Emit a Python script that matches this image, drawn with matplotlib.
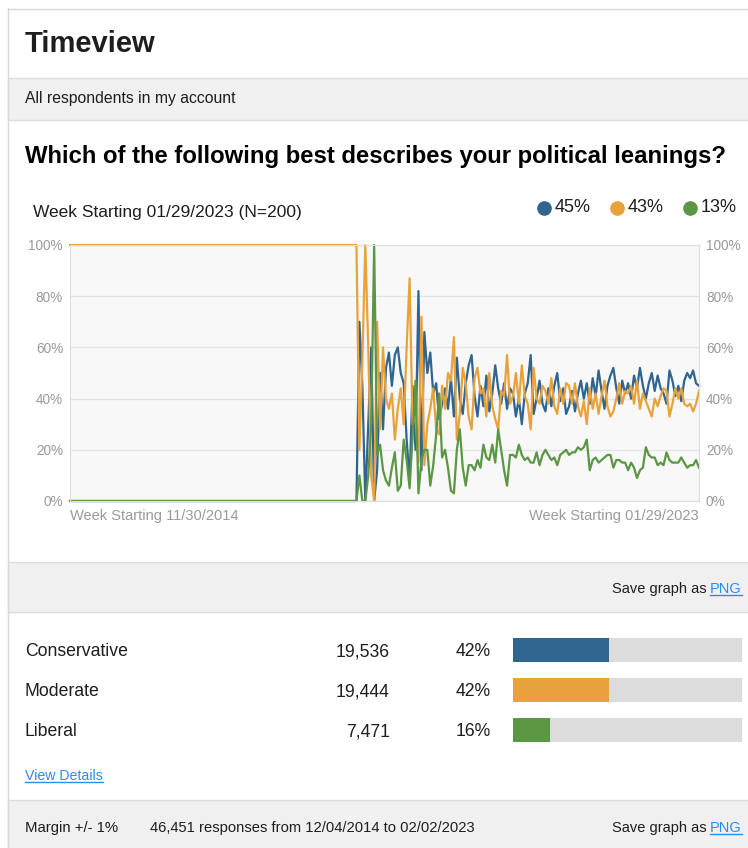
import matplotlib.pyplot as plt
from matplotlib import transforms
from matplotlib.patches import Rectangle

plt.rcParams['font.family'] = ['Liberation Sans', 'DejaVu Sans']

# weekly share (%) per answer; flat until week 194, then every second week
weeks = [0, 194] + list(range(196, 427, 2))
conservative = [0, 0,
    70, 45, 0, 30, 60, 0, 12, 50, 28, 52, 58, 45, 57, 60, 50, 46, 24, 8, 45, 20,
    82, 12, 66, 50, 58, 42, 46, 32,
    38, 44, 36, 48, 33, 56, 40, 34, 46, 53, 57, 41, 33, 45, 37, 49, 35, 42, 53, 44,
    38, 46, 36, 44, 42, 33, 40, 30, 42, 46, 57, 34, 40, 47, 38, 35, 44, 37, 45, 50,
    39, 44, 34,
    37, 43, 35, 42, 47, 40, 46, 38, 48, 41, 51, 43, 36, 45, 49, 52, 44, 38, 47, 42,
    46, 40, 49, 44, 52, 45, 40, 46, 50, 43, 49, 44, 42, 38, 51, 47, 41, 45, 39, 47,
    50, 48, 51, 46, 45]
moderate = [100, 100,
    20, 55, 100, 60, 10, 0, 70, 28, 60, 40, 36, 42, 24, 36, 44, 30, 60, 87, 30, 33,
    15, 72, 14, 30, 36, 44, 28, 26,
    45, 36, 50, 47, 64, 24, 34, 52, 46, 33, 28, 48, 52, 42, 44, 33, 50, 37, 32, 28,
    43, 41, 57, 38, 41, 50, 38, 53, 41, 38, 28, 52, 40, 38, 45, 43, 38, 48, 37, 34,
    44, 38, 46,
    45, 38, 46, 37, 33, 39, 30, 44, 36, 42, 34, 41, 47, 37, 33, 35, 40, 46, 38, 43,
    42, 45, 38, 47, 36, 42, 39, 36, 33, 40, 37, 41, 44, 43, 33, 38, 44, 40, 44, 38,
    37, 38, 35, 38, 43]
liberal = [0, 0,
    10, 0, 0, 10, 30, 100, 18, 22, 12, 8, 6, 13, 19, 4, 6, 24, 16, 5, 25, 47,
    3, 16, 20, 20, 6, 14, 26, 42,
    17, 20, 13, 4, 3, 20, 28, 13, 6, 14, 14, 12, 16, 13, 22, 17, 16, 22, 15, 28,
    20, 12, 6, 18, 18, 17, 22, 18, 16, 17, 15, 15, 19, 14, 18, 20, 18, 16, 17, 14,
    18, 19, 20,
    18, 19, 19, 21, 20, 21, 24, 12, 16, 17, 15, 16, 17, 18, 18, 13, 16, 16, 15, 15,
    12, 15, 13, 9, 12, 13, 21, 18, 17, 17, 14, 15, 14, 19, 16, 15, 15, 15, 17, 15,
    13, 14, 14, 16, 13]

categories = ['Conservative', 'Moderate', 'Liberal']
responses = [19536, 19444, 7471]
colors = ['#306590', '#e9a23b', '#5b9645']
first_week = '11/30/2014'
last_week = '01/29/2023'
last_n = 200
date_range = ('12/04/2014', '02/02/2023')
margin = 1

W, H = 748, 848
LINK = '#2a8cf0'
TEXT = '#1e1e1e'

fig = plt.figure(figsize=(W / 100, H / 100), dpi=100)
fig.patch.set_facecolor('white')

# page background in pixel coordinates
bg = fig.add_axes([0, 0, 1, 1])
bg.set_xlim(0, W)
bg.set_ylim(H, 0)
bg.axis('off')

for top, height in [(78, 42), (562, 50), (800, 60)]:
    bg.add_patch(Rectangle((8, top), W, height, fc='#f0f0f0', ec='#dcdcdc', lw=1))
bg.plot([8.5, 8.5], [8, H], color='#d8d8d8', lw=1)
bg.plot([8, W], [8.5, 8.5], color='#d8d8d8', lw=1)

bg.text(25, 44, 'Timeview', fontsize=21, fontweight='bold', va='center', color=TEXT)
bg.text(25, 99, 'All respondents in my account', fontsize=11.3, va='center', color=TEXT)
bg.text(25, 156, 'Which of the following best describes your political leanings?',
        fontsize=17.2, fontweight='bold', va='center', color='black')
bg.text(33, 212, f'Week Starting {last_week} (N={last_n})', fontsize=12.5,
        va='center', color=TEXT)

series = [conservative, moderate, liberal]
for i, (c, s) in enumerate(zip(colors, series)):
    bg.plot(544 + 73 * i, 208, 'o', ms=9.5, color=c)
    bg.text(555 + 73 * i, 208, f'{s[-1]}%', fontsize=13, va='center', color=TEXT)

# time series chart
ax = fig.add_axes([70 / W, 1 - 501 / H, 629 / W, 256 / H])
ax.set_facecolor('#f8f8f8')
for c, s in zip(colors, series):
    ax.plot(weeks, s, color=c, lw=1.6, clip_on=False)
ax.set_xlim(0, 426)
ax.set_ylim(0, 100)
ax.set_xticks([])
ax.set_yticks([0, 20, 40, 60, 80, 100])
ax.set_yticklabels([f'{v}%' for v in range(0, 101, 20)])
ax.tick_params(axis='y', length=0, labelleft=True, labelright=True,
               labelsize=9.8, colors='#9a9a9a', pad=5)
ax.grid(axis='y', color='#e4e4e4', lw=1)
ax.set_axisbelow(True)
for sp in ax.spines.values():
    sp.set_color('#dddddd')
ax.text(0, -0.03, f'Week Starting {first_week}', transform=ax.transAxes,
        ha='left', va='top', fontsize=10.5, color='#9a9a9a')
ax.text(1, -0.03, f'Week Starting {last_week}', transform=ax.transAxes,
        ha='right', va='top', fontsize=10.5, color='#9a9a9a')

# totals table with bars
total = sum(responses)
shares = [round(100 * r / total) for r in responses]
axb = fig.add_axes([513 / W, 1 - 750 / H, 229 / W, 120 / H])
axb.set_xlim(0, 100)
axb.set_ylim(2.5, -0.5)
axb.axis('off')
rows = range(len(categories))
axb.barh(rows, [100] * len(rows), height=0.6, color='#dcdcdc')
axb.barh(rows, shares, height=0.6, color=colors)

# row texts sit on a baseline just under the bar centre
tr = transforms.blended_transform_factory(bg.transData, axb.transData)
tr = transforms.offset_copy(tr, fig=fig, y=-6.3, units='dots')
for i, (name, n, p) in enumerate(zip(categories, responses, shares)):
    axb.text(25, i, name, transform=tr, va='baseline', fontsize=12.7, color=TEXT)
    axb.text(390, i, f'{n:,}', transform=tr, va='baseline', ha='right', fontsize=12.7, color=TEXT)
    axb.text(491, i, f'{p}%', transform=tr, va='baseline', ha='right', fontsize=12.7, color=TEXT)

renderer = fig.canvas.get_renderer()
inv = bg.transData.inverted()


def link(x, y, s, ha='left', size=10.5):
    t = bg.text(x, y, s, fontsize=size, ha=ha, va='center', color=LINK)
    bb = t.get_window_extent(renderer).transformed(inv)
    bottom = max(bb.y0, bb.y1)
    bg.plot([bb.x0, bb.x1], [bottom - 1.5, bottom - 1.5], color=LINK, lw=1)
    return bb


def save_as(y):
    bb = link(742, y, 'PNG', ha='right')
    bg.text(bb.x0 - 4, y, 'Save graph as', fontsize=10.5, ha='right', va='center', color=TEXT)


save_as(589)
save_as(828)
link(25, 776, 'View Details', size=10.2)

bg.text(25, 828, f'Margin +/- {margin}%', fontsize=10.7, va='center', color=TEXT)
bg.text(150, 828, f'{total:,} responses from {date_range[0]} to {date_range[1]}',
        fontsize=10.6, va='center', color=TEXT)

fig.savefig('out.png', dpi=100)
